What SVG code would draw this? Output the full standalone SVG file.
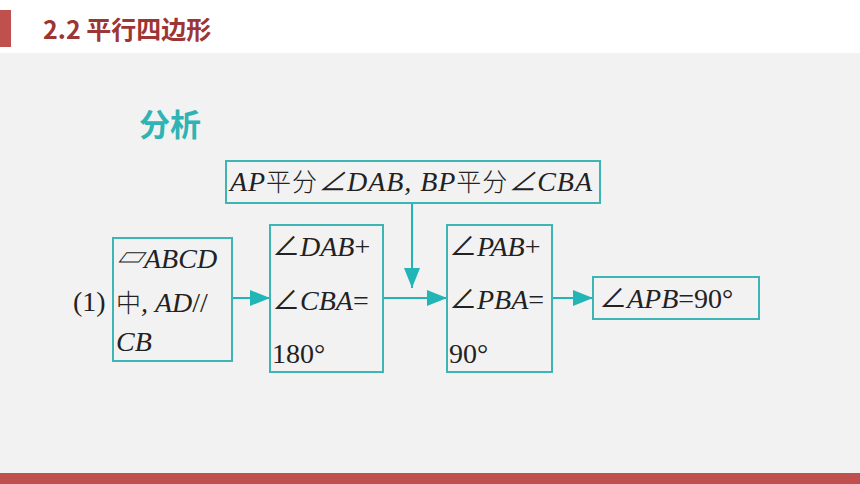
<svg xmlns="http://www.w3.org/2000/svg" width="860" height="484" viewBox="0 0 860 484">
<defs>
<style>
.box{fill:none;stroke:#3db5b5;stroke-width:2}
.t{font-family:"Liberation Serif","Noto Sans CJK SC",serif;font-size:28px;fill:#222}
.i{font-style:italic}
.n{font-style:normal}
.cn{font-family:"Noto Sans CJK SC",sans-serif;font-style:normal;font-size:25px;font-weight:300}
.ln{stroke:#22b5b5;stroke-width:2;fill:none}
</style>
<marker id="ah" viewBox="0 0 20 16" refX="20" refY="8" markerWidth="20" markerHeight="16" markerUnits="userSpaceOnUse" orient="auto">
<path d="M0,0 L20,8 L0,16 Z" fill="#22b5b5"/>
</marker>
</defs>
<rect x="0" y="0" width="860" height="484" fill="#ffffff"/>
<rect x="0" y="53" width="860" height="420" fill="#f2f2f2"/>
<rect x="0" y="473" width="860" height="11" fill="#c0504d"/>
<rect x="0" y="10" width="11" height="37" fill="#c0504d"/>
<text x="43" y="39" font-family="'Noto Sans CJK SC',sans-serif" font-size="25" font-weight="bold" fill="#9e3535">2.2 平行四边形</text>
<text x="139" y="136" font-family="'Noto Sans CJK SC',sans-serif" font-size="31" font-weight="bold" fill="#2fb3b3">分析</text>
<text class="t" x="73" y="311">(1)</text>
<g id="connectors">
<line class="ln" x1="232" y1="298" x2="270" y2="298" marker-end="url(#ah)"/>
<line class="ln" x1="383" y1="298" x2="447" y2="298" marker-end="url(#ah)"/>
<line class="ln" x1="412" y1="203" x2="412" y2="288" marker-end="url(#ah)"/>
<line class="ln" x1="552" y1="298" x2="593" y2="298" marker-end="url(#ah)"/>
</g>
<g id="top">
<rect class="box" x="226" y="161" width="374" height="42"/>
<text class="t i" x="230" y="191" textLength="362" lengthAdjust="spacing">AP<tspan class="cn">平分</tspan>∠DAB, BP<tspan class="cn">平分</tspan>∠CBA</text>
</g>
<g id="n1">
<rect class="box" x="113" y="238" width="119" height="123"/>
<text class="t i" x="116" y="268">▱ABCD</text>
<text class="t" x="116" y="312"><tspan class="cn">中</tspan><tspan class="i">, AD</tspan>//</text>
<text class="t i" x="116" y="351">CB</text>
</g>
<g id="n2">
<rect class="box" x="270" y="225" width="113" height="147"/>
<text class="t" x="272" y="256">∠<tspan class="i">DAB</tspan>+</text>
<text class="t" x="272" y="310">∠<tspan class="i">CBA</tspan>=</text>
<text class="t" x="272" y="363">180°</text>
</g>
<g id="n3">
<rect class="box" x="447" y="225" width="105" height="147"/>
<text class="t" x="449" y="256">∠<tspan class="i">PAB</tspan>+</text>
<text class="t" x="449" y="309">∠<tspan class="i">PBA</tspan>=</text>
<text class="t" x="449" y="363">90°</text>
</g>
<g id="n4">
<rect class="box" x="593" y="277" width="166" height="42"/>
<text class="t" x="599" y="308">∠<tspan class="i">APB</tspan>=90°</text>
</g>
</svg>
